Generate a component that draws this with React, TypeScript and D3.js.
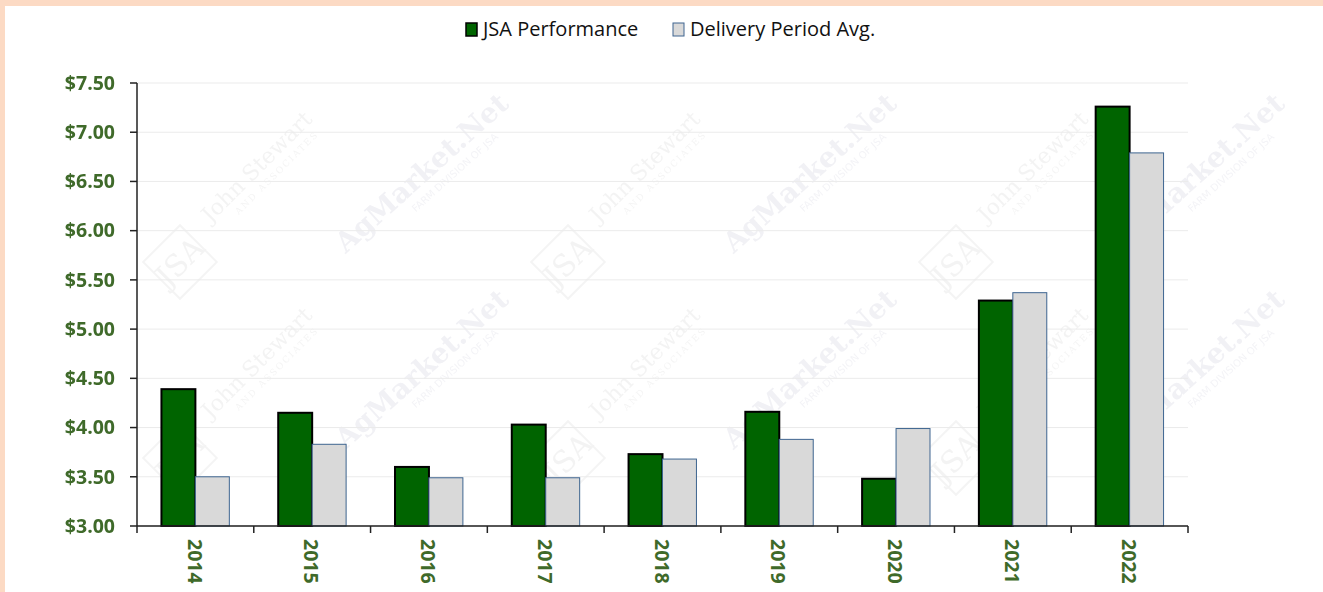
import React from 'react';
import * as d3 from 'd3';

// Chart data
const years = ['2014', '2015', '2016', '2017', '2018', '2019', '2020', '2021', '2022'];
const jsaPerformance = [4.39, 4.15, 3.60, 4.03, 3.73, 4.16, 3.48, 5.29, 7.26];
const deliveryAvg = [3.50, 3.83, 3.49, 3.49, 3.68, 3.88, 3.99, 5.37, 6.79];
const yTicks = [3.0, 3.5, 4.0, 4.5, 5.0, 5.5, 6.0, 6.5, 7.0, 7.5];
const seriesNames = ['JSA Performance', 'Delivery Period Avg.'];

const W = 1323;
const H = 592;
const margin = { left: 137, right: 135, top: 83, bottom: 66 };

const GREEN = '#006400';
const GRAY = '#d9d9d9';
const LABEL = '#3f6a2a';

const App: React.FC = () => {
  const x = d3.scaleBand<string>()
    .domain(years)
    .range([margin.left, W - margin.right]);

  const inner = d3.scaleBand<string>()
    .domain(['jsa', 'avg'])
    .range([0, x.bandwidth()])
    .paddingInner(0)
    .paddingOuter(0.72);

  const y = d3.scaleLinear()
    .domain([3, 7.5])
    .range([H - margin.bottom, margin.top]);

  const fmt = d3.format('$.2f');

  // faint watermark pattern
  const wmCols = [0, 1, 2];
  const wmRows = [0, 1];

  return (
    <div style={{ position: 'fixed', left: 0, top: 0, width: W, height: H }}>
      <svg width={W} height={H} style={{ display: 'block' }}>
        <rect x={0} y={0} width={W} height={H} fill="#fcdac4" />
        <rect x={5} y={6} width={W - 5} height={H - 6} fill="#ffffff" />

        {/* watermarks */}
        <g fill="none" opacity={0.4}>
          {wmRows.map(r => wmCols.map(c => {
            const ox = c * 388;
            const oy = r * 196;
            return (
              <g key={`wm-${r}-${c}`}>
                <g transform={`translate(${180 + ox},${262 + oy}) rotate(-45)`}>
                  <rect x={-26} y={-26} width={52} height={52} stroke="#e4e4e4" strokeWidth={2} />
                  <text x={0} y={10} textAnchor="middle" fontFamily="DejaVu Serif" fontSize={30} fill="#e2e2e2">JSA</text>
                </g>
                <g transform={`translate(${262 + ox},${172 + oy}) rotate(-45)`}>
                  <text x={0} y={0} textAnchor="middle" fontFamily="DejaVu Serif" fontSize={22} fill="#e2e2e2">John Stewart</text>
                  <text x={10} y={14} textAnchor="middle" fontFamily="DejaVu Serif" fontSize={9} letterSpacing={2} fill="#e4e4e4">AND ASSOCIATES</text>
                </g>
                <g transform={`translate(${428 + ox},${180 + oy}) rotate(-42)`}>
                  <text x={0} y={0} textAnchor="middle" fontFamily="DejaVu Serif" fontWeight="bold" fontSize={28} fill="#dcdce6">AgMarket.Net</text>
                  <text x={25} y={16} textAnchor="middle" fontFamily="DejaVu Sans" fontSize={10} fill="#e2e2ea">FARM DIVISION OF JSA</text>
                </g>
              </g>
            );
          }))}
        </g>

        {/* gridlines */}
        {yTicks.map(t => (
          <line key={`g-${t}`} x1={margin.left} x2={W - margin.right} y1={y(t)} y2={y(t)}
            stroke="#ebebeb" strokeWidth={1} />
        ))}

        {/* bars */}
        {years.map((yr, i) => {
          const bx = x(yr)!;
          return (
            <g key={`b-${yr}`}>
              <rect x={bx + inner('jsa')!} y={y(jsaPerformance[i])}
                width={inner.bandwidth()} height={y(3) - y(jsaPerformance[i])}
                fill={GREEN} stroke="#000" strokeWidth={2} />
              <rect x={bx + inner('avg')!} y={y(deliveryAvg[i])}
                width={inner.bandwidth()} height={y(3) - y(deliveryAvg[i])}
                fill={GRAY} stroke="#3e6590" strokeWidth={1} />
            </g>
          );
        })}

        {/* y axis */}
        <line x1={margin.left} x2={margin.left} y1={y(7.5)} y2={y(3)} stroke="#222" strokeWidth={1.5} />
        {yTicks.map(t => (
          <g key={`yt-${t}`}>
            <line x1={margin.left - 7} x2={margin.left} y1={y(t)} y2={y(t)} stroke="#222" strokeWidth={1.5} />
            <text x={margin.left - 22} y={y(t)} dy="0.35em" textAnchor="end"
              fontFamily="Open Sans" fontWeight="bold" fontSize={19.5} fill={LABEL}>{fmt(t)}</text>
          </g>
        ))}

        {/* x axis */}
        <line x1={margin.left} x2={W - margin.right} y1={y(3)} y2={y(3)} stroke="#222" strokeWidth={1.5} />
        {[...years.map(yr => x(yr)!), W - margin.right].map((px, i) => (
          <line key={`xt-${i}`} x1={px} x2={px} y1={y(3)} y2={y(3) + 7} stroke="#222" strokeWidth={1.5} />
        ))}
        {years.map(yr => (
          <text key={`xl-${yr}`}
            transform={`translate(${x(yr)! + x.bandwidth() / 2 - 1},${y(3) + 13}) rotate(90)`}
            dy="0.35em" textAnchor="start"
            fontFamily="Open Sans" fontWeight="bold" fontSize={19.5} fill={LABEL}>{yr}</text>
        ))}

        {/* legend */}
        <g fontFamily="Open Sans" fontSize={20} fill="#111">
          <rect x={466} y={23} width={11} height={13} fill={GREEN} stroke="#000" strokeWidth={1.5} />
          <text x={483} y={29} dy="0.35em">{seriesNames[0]}</text>
          <rect x={673} y={23} width={11} height={13} fill={GRAY} stroke="#3e6590" strokeWidth={1} />
          <text x={690} y={29} dy="0.35em">{seriesNames[1]}</text>
        </g>
      </svg>
    </div>
  );
};

export default App;
